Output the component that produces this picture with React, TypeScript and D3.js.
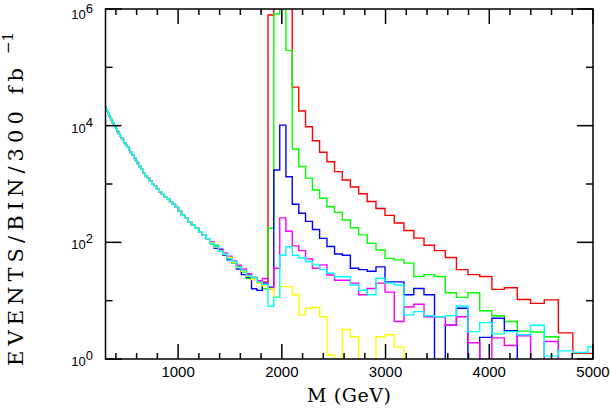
import React from "react";
import * as d3 from "d3";

// log-spaced bin edges (GeV), ~3% wide
const EDGES = [
  298.6, 307.6, 316.8, 326.3, 336.1, 346.2, 356.5, 367.2, 378.2, 389.6,
  401.3, 413.3, 425.7, 438.5, 451.6, 465.2, 479.1, 493.5, 508.3, 523.6,
  539.3, 555.5, 572.1, 589.3, 607.0, 625.2, 643.9, 663.2, 683.1, 703.6,
  724.7, 746.5, 768.9, 791.9, 815.7, 840.2, 865.4, 891.4, 918.1, 945.6,
  974.0, 1003.2, 1033.3, 1064.3, 1096.2, 1129.1, 1163.0, 1197.9, 1233.8, 1270.8,
  1309.0, 1348.2, 1388.7, 1430.4, 1473.3, 1517.5, 1563.0, 1609.9, 1658.2, 1707.9,
  1759.1, 1811.9, 1866.3, 1922.3, 1979.9, 2039.3, 2100.5, 2163.5, 2228.4, 2295.3,
  2364.1, 2435.0, 2508.1, 2583.3, 2660.8, 2740.7, 2822.9, 2907.6, 2994.8, 3084.6,
  3177.2, 3272.5, 3370.7, 3471.8, 3576.0, 3683.3, 3793.8, 3907.6, 4024.8, 4145.5,
  4269.9, 4398.0, 4529.9, 4665.8, 4805.8, 4950.0, 5098.5,
];

// shared Drell-Yan background, bins 0..49
const BACKGROUND = [
  20900, 19050, 17800, 16200, 14800, 13500, 12300, 11200, 10230, 9330,
  8710, 7940, 7240, 6760, 6170, 5620, 5130, 4680, 4270, 3890,
  3470, 3160, 2820, 2510, 2240, 2000, 1780, 1550, 1380, 1260,
  1120, 1000, 912, 832, 741, 676, 603, 550, 490, 447,
  398, 339, 295, 257, 224, 200, 174, 151, 132, 115,
];

// per model, bins 50..95
const RED = [
  98, 83, 74, 63, 52, 46, 40, 32, 28, 25, 21, 21,
  790000, 3000000, 3000000, 2000000, 45700, 17800, 9600, 5500, 3500, 2400,
  1630, 1170, 890, 680, 500, 380, 290, 215, 160, 118,
  89, 72, 55, 34, 28, 26, 15.6, 16.7, 10.5, 9, 10.3, 2.8, 1.25, 1.25,
];
const GREEN = [
  93, 89, 71, 62, 56, 44, 38, 31, 24, 25, 20, 16,
  174, 820000, 3000000, 195000, 3980, 1990, 1260, 790, 570, 408,
  326, 241, 178, 134, 96, 74, 53, 50, 44, 26,
  28, 26, 13.7, 11.4, 13.7, 6.7, 5.5, 4.4, 3.0, 2.9, 2.4, 0, 0, 0,
];
const BLUE = [
  100, 79, 76, 60, 50, 45, 35, 28, 25, 16, 15, 20,
  17, 1740, 10200, 1330, 450, 316, 229, 166, 117, 85,
  63, 60, 36, 34, 32, 38, 21, 21, 12.6, 16.2,
  12.6, 0, 3.8, 7.4, 0, 2.35, 5.0, 3.05, 0, 0, 0, 0, 0, 0,
];
const MAGENTA = [
  102, 85, 74, 66, 58, 48, 40, 35, 29, 23, 22, 24,
  16, 36, 263, 155, 87, 72, 52, 36, 41, 27.5,
  22.4, 22.4, 20, 12.6, 16.2, 20, 14, 4.4, 7.8, 8.7,
  5.3, 5.3, 3.8, 5.3, 1.9, 0, 2.3, 1.7, 2.5, 0, 2.0, 0, 0, 0,
];
const YELLOW = [
  98, 83, 72, 62, 55, 45, 37, 32, 26, 23, 20, 18,
  16.2, 11.7, 17.4, 17.4, 12.6, 5.7, 7.4, 7.7, 5.3, 1.17,
  0, 3.2, 2.4, 0, 0, 2.4, 2.6, 1.6, 0, 0,
  0, 0, 0, 0, 0, 0, 0, 0, 0, 0, 0, 0, 0, 0,
];
const CYAN = [
  95, 85, 71, 63, 52, 47, 38, 33, 27, 25, 21, 19,
  8, 11.4, 60, 84, 60, 54, 47, 41, 34, 29.5,
  25.7, 25.7, 18.6, 15.1, 12.6, 24, 20, 18.6, 5.7, 6.5,
  5.5, 5.3, 5.5, 8.1, 2.95, 4.2, 2.7, 2.95, 2.6, 3.8, 1.12, 1.38, 1.29, 1.62,
];

const SERIES = [
  { color: "#ff0000", values: RED },
  { color: "#00ff00", values: GREEN },
  { color: "#0000ff", values: BLUE },
  { color: "#ff00ff", values: MAGENTA },
  { color: "#ffff00", values: YELLOW },
  { color: "#00ffff", values: CYAN },
];

const X_MAJOR = [1000, 2000, 3000, 4000, 5000];
const Y_DECADES = [0, 1, 2, 3, 4, 5, 6];

const W = 611;
const H = 409;
const L = 105.5, T = 9, R = 593, B = 359;

export default function App() {
  const x = d3.scaleLinear().domain([300, 5000]).range([L, R]);
  const y = d3.scaleLog().domain([1, 1e6]).range([B, T]);
  const yv = (v: number) => (v > 0 ? y(v) : B + 20);

  const line = d3
    .line<[number, number]>()
    .x((d) => x(d[0]))
    .y((d) => yv(d[1]))
    .curve(d3.curveStepAfter);

  const xMinor = d3.range(400, 5000, 200).filter((v) => v % 1000 !== 0);
  const sans = "'Liberation Sans', Arial, sans-serif";
  const serif = "'DejaVu Serif', serif";

  return (
    <>
      <style>{`body{margin:0}`}</style>
      <svg width={W} height={H} style={{ display: "block", background: "#fff" }}>
        <defs>
          <clipPath id="plot">
            <rect x={L} y={T} width={R - L} height={B - T} />
          </clipPath>
        </defs>

        <g clipPath="url(#plot)" fill="none" strokeWidth={1.4}>
          {SERIES.map((s, i) => {
            const vals = BACKGROUND.concat(s.values);
            const pts: [number, number][] = vals.map((v, k) => [EDGES[k], v]);
            pts.push([EDGES[vals.length], vals[vals.length - 1]]);
            return <path key={i} d={line(pts) || ""} stroke={s.color} />;
          })}
        </g>

        {/* frame + ticks */}
        <g stroke="#000" strokeWidth={1.5}>
          <rect x={L} y={T} width={R - L} height={B - T} fill="none" />
          {X_MAJOR.map((v) => (
            <g key={"xM" + v}>
              <line x1={x(v)} x2={x(v)} y1={B} y2={B - 15} />
              <line x1={x(v)} x2={x(v)} y1={T} y2={T + 15} />
            </g>
          ))}
          {xMinor.map((v) => (
            <g key={"xm" + v}>
              <line x1={x(v)} x2={x(v)} y1={B} y2={B - 6} />
              <line x1={x(v)} x2={x(v)} y1={T} y2={T + 6} />
            </g>
          ))}
          {Y_DECADES.map((e) => {
            const len = e % 2 === 0 ? 16 : 7;
            const yy = y(Math.pow(10, e));
            return (
              <g key={"y" + e}>
                <line x1={L} x2={L + len} y1={yy} y2={yy} />
                <line x1={R} x2={R - len} y1={yy} y2={yy} />
              </g>
            );
          })}
        </g>

        {/* x tick labels */}
        {X_MAJOR.map((v) => (
          <text key={"xl" + v} x={x(v)} y={377} textAnchor="middle" fontFamily={sans} fontSize={15} fill="#000">
            {v}
          </text>
        ))}

        {/* y tick labels */}
        {Y_DECADES.filter((e) => e % 2 === 0).map((e) => {
          const yy = y(Math.pow(10, e));
          return (
            <text key={"yl" + e} x={93} y={e === 6 ? yy + 10 : yy + 7} textAnchor="end" fontFamily={sans} fontSize={13} fill="#000">
              10
              <tspan dy={-6}>{e}</tspan>
            </text>
          );
        })}

        {/* axis titles */}
        <text x={307} y={402} fontFamily={serif} fontSize={19} textLength={84} lengthAdjust="spacing" fill="#000">
          M (GeV)
        </text>
        <g transform="translate(23,366) rotate(-90)">
          <text x={0} y={0} fontFamily={serif} fontSize={21} textLength={298} lengthAdjust="spacing" fill="#000">
            EVENTS/BIN/300 fb
          </text>
          <text x={312} y={-10} fontFamily={serif} fontSize={15} fill="#000">
            −1
          </text>
        </g>
      </svg>
    </>
  );
}
